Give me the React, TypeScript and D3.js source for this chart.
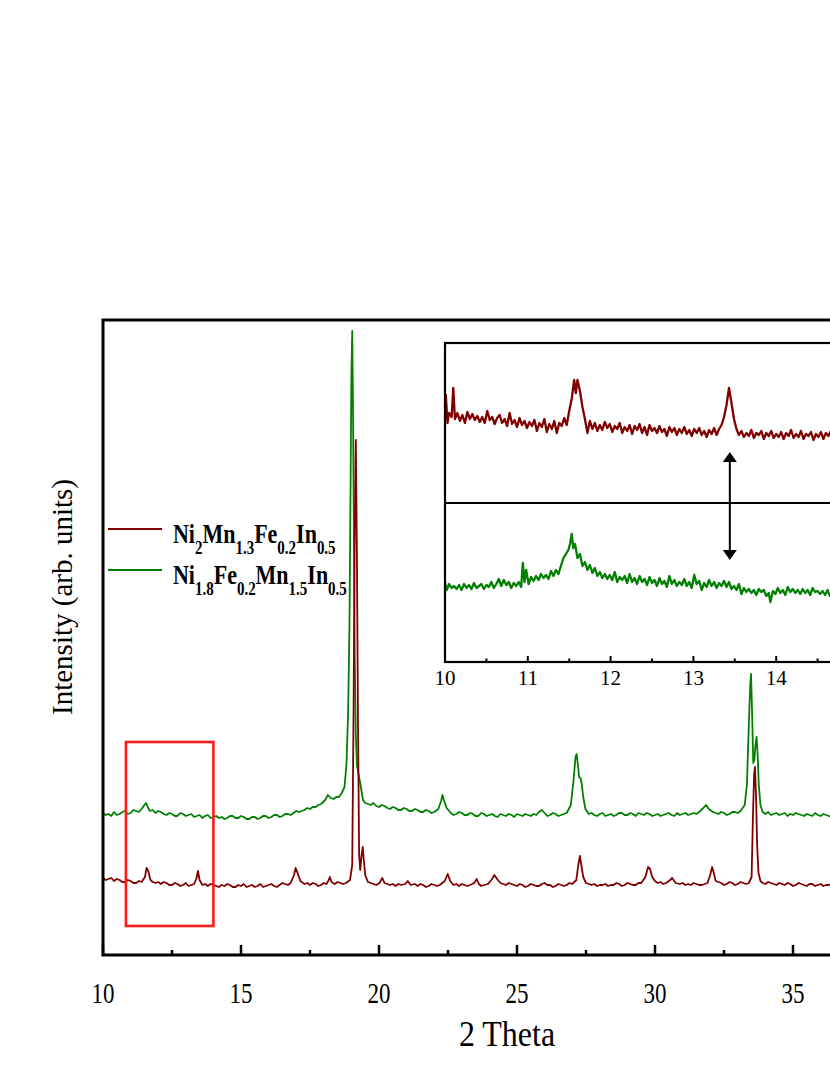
import React from "react";
import * as d3 from "d3";

// ---------- data ----------
const mainTicks = [10, 15, 20, 25, 30, 35];
const mainMinorTicks = [12.5, 17.5, 22.5, 27.5, 32.5, 37.5];
const insetTicks = [10, 11, 12, 13, 14];
const insetMinorTicks = [10.5, 11.5, 12.5, 13.5, 14.5];

const seriesNames = ["Ni2Mn1.3Fe0.2In0.5", "Ni1.8Fe0.2Mn1.5In0.5"];
const seriesColors = ["#800000", "#008000"];

// main plot: Ni1.8Fe0.2Mn1.5In0.5 (green, offset upward)
const greenMain: [number, number][] = [
  [10.0,142],[10.1,140],[10.2,141],[10.3,139],[10.4,143],[10.5,140],[10.6,141],[10.7,143],[10.8,144],[10.9,141],[11.0,142],[11.1,145],[11.2,144],[11.3,143],[11.4,146],[11.5,150],[11.56,152],[11.62,148],[11.7,144],[11.8,145],[11.9,142],[12.0,144],[12.1,143],[12.2,141],[12.3,140],[12.4,142],[12.5,141],[12.6,139],[12.7,139],[12.8,142],[12.9,141],[13.0,139],[13.1,140],[13.2,141],[13.3,138],[13.4,139],[13.5,140],[13.6,137],[13.7,139],[13.8,140],[13.9,137],[14.0,138],[14.1,139],[14.2,137],[14.3,138],[14.4,136],[14.5,137],[14.6,139],[14.7,139],[14.8,137],[14.9,137],[15.0,139],[15.1,138],[15.2,136],[15.3,136],[15.4,138],[15.5,138],[15.6,136],[15.7,137],[15.8,139],[15.9,139],[16.0,137],[16.1,138],[16.2,140],[16.3,140],[16.4,138],[16.5,139],[16.6,141],[16.7,141],[16.8,140],[16.9,142],[17.0,144],[17.1,143],[17.2,144],[17.3,145],[17.4,147],[17.5,146],[17.6,148],[17.7,148],[17.8,150],[17.9,151],[18.05,155],[18.15,160],[18.25,157],[18.35,156],[18.45,158],[18.55,158],[18.65,162],[18.75,168],[18.82,190],[18.88,240],[18.93,330],[18.97,470],[19.0,580],[19.03,624],[19.06,540],[19.09,420],[19.12,300],[19.16,220],[19.2,190],[19.25,182],[19.3,175],[19.36,165],[19.42,155],[19.5,152],[19.6,151],[19.7,150],[19.8,152],[19.9,149],[20.0,148],[20.1,150],[20.2,149],[20.3,147],[20.4,146],[20.5,148],[20.6,147],[20.7,145],[20.8,145],[20.9,147],[21.0,146],[21.1,144],[21.2,144],[21.3,146],[21.4,145],[21.5,143],[21.6,143],[21.7,145],[21.8,144],[21.9,142],[22.0,143],[22.15,146],[22.25,154],[22.3,160],[22.35,155],[22.45,147],[22.6,142],[22.7,140],[22.8,141],[22.9,143],[23.0,142],[23.1,140],[23.2,140],[23.3,142],[23.4,141],[23.5,139],[23.6,139],[23.7,142],[23.8,141],[23.9,139],[24.0,140],[24.1,141],[24.2,139],[24.3,138],[24.4,141],[24.5,140],[24.6,139],[24.7,141],[24.8,140],[24.9,138],[25.0,141],[25.1,140],[25.2,139],[25.3,141],[25.4,140],[25.5,139],[25.6,141],[25.7,140],[25.8,143],[25.9,145],[26.0,142],[26.1,139],[26.2,140],[26.3,142],[26.4,141],[26.5,139],[26.6,140],[26.7,141],[26.8,142],[26.95,150],[27.05,175],[27.12,198],[27.16,201],[27.2,192],[27.25,178],[27.3,177],[27.34,172],[27.4,158],[27.48,146],[27.6,141],[27.7,142],[27.8,140],[27.9,139],[28.0,141],[28.1,142],[28.2,139],[28.3,140],[28.4,141],[28.5,139],[28.6,140],[28.7,142],[28.8,142],[28.9,140],[29.0,140],[29.1,142],[29.2,141],[29.3,139],[29.4,142],[29.5,141],[29.6,140],[29.7,142],[29.8,141],[29.9,139],[30.0,140],[30.1,141],[30.2,139],[30.3,140],[30.4,141],[30.5,142],[30.6,140],[30.7,139],[30.8,142],[30.9,140],[31.0,141],[31.1,142],[31.2,140],[31.3,141],[31.4,142],[31.5,141],[31.6,143],[31.75,147],[31.85,150],[31.95,146],[32.1,143],[32.2,142],[32.3,141],[32.4,143],[32.5,142],[32.6,140],[32.7,141],[32.8,143],[32.9,143],[33.0,142],[33.1,144],[33.25,150],[33.33,170],[33.4,230],[33.45,270],[33.48,281],[33.52,240],[33.56,192],[33.6,195],[33.64,210],[33.68,218],[33.72,200],[33.76,170],[33.82,150],[33.9,143],[34.0,141],[34.1,143],[34.2,140],[34.3,141],[34.4,142],[34.5,140],[34.6,141],[34.7,142],[34.8,139],[34.9,141],[35.0,140],[35.1,142],[35.2,141],[35.3,140],[35.4,139],[35.5,141],[35.6,140],[35.7,139],[35.8,142],[35.9,140],[36.0,139],[36.1,141],[36.2,140],[36.3,139],[36.4,138],[36.5,140],[36.6,139]
];

// main plot: Ni2Mn1.3Fe0.2In0.5 (dark red)
const redMain: [number, number][] = [
  [10.0,77],[10.1,75],[10.2,76],[10.3,77],[10.4,74],[10.5,76],[10.6,75],[10.7,73],[10.8,73],[10.9,75],[11.0,74],[11.1,72],[11.2,72],[11.3,74],[11.4,73],[11.52,78],[11.58,87],[11.64,84],[11.72,75],[11.8,73],[11.9,72],[12.0,73],[12.1,71],[12.2,73],[12.3,72],[12.4,70],[12.5,70],[12.6,72],[12.7,71],[12.8,69],[12.9,70],[13.0,72],[13.1,69],[13.2,70],[13.3,71],[13.38,76],[13.44,84],[13.5,75],[13.6,70],[13.7,71],[13.8,69],[13.9,71],[14.0,70],[14.1,69],[14.2,68],[14.3,70],[14.4,69],[14.5,71],[14.6,70],[14.7,68],[14.8,68],[14.9,70],[15.0,69],[15.1,71],[15.2,68],[15.3,69],[15.4,70],[15.5,68],[15.6,69],[15.7,71],[15.8,68],[15.9,69],[16.0,70],[16.1,71],[16.2,69],[16.3,68],[16.4,70],[16.5,72],[16.6,71],[16.7,70],[16.8,72],[16.92,80],[16.98,87],[17.05,82],[17.15,74],[17.3,71],[17.4,72],[17.5,70],[17.6,72],[17.7,71],[17.8,69],[17.9,70],[18.0,72],[18.1,71],[18.18,75],[18.22,78],[18.28,73],[18.4,71],[18.5,73],[18.6,72],[18.7,71],[18.8,72],[18.95,75],[19.03,90],[19.08,250],[19.12,420],[19.16,515],[19.2,400],[19.24,230],[19.28,100],[19.32,85],[19.37,100],[19.41,108],[19.45,95],[19.5,80],[19.6,73],[19.7,72],[19.8,71],[19.9,70],[20.02,72],[20.12,77],[20.2,72],[20.3,71],[20.4,70],[20.5,71],[20.6,69],[20.7,71],[20.8,70],[20.95,71],[21.04,74],[21.15,70],[21.3,71],[21.4,69],[21.5,71],[21.6,70],[21.7,68],[21.8,69],[21.9,71],[22.0,70],[22.1,69],[22.2,70],[22.38,74],[22.49,81],[22.58,74],[22.7,70],[22.8,71],[22.9,69],[23.0,71],[23.1,70],[23.2,69],[23.3,70],[23.45,72],[23.54,76],[23.62,71],[23.7,69],[23.8,70],[23.95,71],[24.1,76],[24.18,80],[24.28,76],[24.4,72],[24.5,71],[24.6,70],[24.7,72],[24.8,71],[24.9,70],[25.0,69],[25.1,71],[25.2,70],[25.3,68],[25.4,69],[25.5,71],[25.6,70],[25.7,69],[25.8,69],[25.9,71],[26.0,72],[26.1,70],[26.2,70],[26.3,68],[26.4,69],[26.5,71],[26.6,70],[26.7,69],[26.8,70],[26.9,72],[27.0,71],[27.15,75],[27.22,90],[27.28,99],[27.34,88],[27.4,78],[27.5,72],[27.6,71],[27.7,70],[27.8,71],[27.9,69],[28.0,70],[28.1,70],[28.2,71],[28.3,69],[28.4,70],[28.5,70],[28.6,72],[28.7,71],[28.8,69],[28.9,70],[29.0,72],[29.1,71],[29.2,70],[29.3,70],[29.4,72],[29.5,72],[29.65,78],[29.75,88],[29.82,86],[29.9,78],[30.0,74],[30.1,72],[30.2,73],[30.3,71],[30.4,72],[30.55,75],[30.62,77],[30.75,72],[30.9,71],[31.0,72],[31.1,70],[31.2,71],[31.3,70],[31.4,72],[31.5,71],[31.6,70],[31.7,70],[31.8,71],[31.9,72],[32.0,80],[32.07,88],[32.13,82],[32.2,74],[32.3,73],[32.4,72],[32.5,70],[32.6,71],[32.7,73],[32.8,72],[32.9,70],[33.0,71],[33.1,73],[33.2,72],[33.3,71],[33.4,72],[33.5,78],[33.55,140],[33.59,180],[33.62,188],[33.66,160],[33.7,110],[33.75,82],[33.82,74],[33.9,72],[34.0,71],[34.1,73],[34.2,72],[34.3,71],[34.4,70],[34.5,72],[34.6,71],[34.7,70],[34.8,72],[34.9,71],[35.0,69],[35.1,70],[35.2,72],[35.3,71],[35.4,70],[35.5,69],[35.6,71],[35.7,71],[35.8,69],[35.9,70],[36.0,71],[36.1,69],[36.2,70],[36.3,70],[36.4,71],[36.5,69]
];

// inset (10-15 deg), top panel: red sample
const redInset: [number, number][] = [
  [10.00,95],[10.01,108],[10.03,80],[10.05,90],[10.08,86],[10.10,115],[10.12,84],[10.15,90],[10.18,82],[10.21,88],[10.24,80],[10.27,91],[10.30,84],[10.33,89],[10.36,83],[10.39,87],[10.42,81],[10.45,86],[10.48,80],[10.51,92],[10.54,83],[10.57,86],[10.60,79],[10.63,85],[10.66,88],[10.69,80],[10.72,84],[10.75,77],[10.78,90],[10.81,79],[10.84,83],[10.87,76],[10.90,85],[10.93,78],[10.96,82],[10.99,75],[11.02,81],[11.05,77],[11.08,83],[11.11,72],[11.14,80],[11.17,76],[11.20,84],[11.23,71],[11.26,79],[11.29,74],[11.32,82],[11.35,70],[11.38,80],[11.41,77],[11.44,85],[11.47,78],[11.50,92],[11.53,104],[11.56,123],[11.58,110],[11.60,123],[11.63,112],[11.66,96],[11.69,84],[11.72,70],[11.75,82],[11.78,74],[11.81,80],[11.84,72],[11.87,78],[11.90,73],[11.93,81],[11.96,75],[11.99,79],[12.02,71],[12.05,77],[12.08,74],[12.11,80],[12.14,70],[12.17,76],[12.20,72],[12.23,78],[12.26,69],[12.29,77],[12.32,73],[12.35,79],[12.38,70],[12.41,76],[12.44,68],[12.47,78],[12.50,72],[12.53,75],[12.56,70],[12.59,77],[12.62,71],[12.65,74],[12.68,67],[12.71,76],[12.74,71],[12.77,75],[12.80,68],[12.83,74],[12.86,70],[12.89,76],[12.92,69],[12.95,73],[12.98,67],[13.01,74],[13.04,70],[13.07,75],[13.10,68],[13.13,72],[13.16,66],[13.19,73],[13.22,69],[13.25,75],[13.28,68],[13.31,74],[13.34,78],[13.37,86],[13.40,98],[13.43,115],[13.46,100],[13.49,84],[13.52,74],[13.55,68],[13.58,72],[13.61,66],[13.64,70],[13.67,67],[13.70,73],[13.73,65],[13.76,70],[13.79,68],[13.82,72],[13.85,64],[13.88,70],[13.91,67],[13.94,72],[13.97,65],[14.00,69],[14.03,66],[14.06,71],[14.09,64],[14.12,70],[14.15,67],[14.18,73],[14.21,65],[14.24,69],[14.27,66],[14.30,72],[14.33,64],[14.36,69],[14.39,67],[14.42,71],[14.45,63],[14.48,69],[14.51,66],[14.54,71],[14.57,64],[14.60,70],[14.63,67],[14.66,72],[14.69,65],[14.72,69],[14.75,66],[14.78,70],[14.81,65],[14.84,69]
];

// inset bottom panel: green sample
const greenInset: [number, number][] = [
  [10.00,80],[10.02,72],[10.05,78],[10.08,74],[10.11,76],[10.14,73],[10.17,77],[10.20,72],[10.23,78],[10.26,74],[10.29,77],[10.32,73],[10.35,79],[10.38,74],[10.41,76],[10.44,78],[10.47,73],[10.50,77],[10.53,75],[10.56,80],[10.59,74],[10.62,78],[10.65,83],[10.68,76],[10.71,82],[10.74,77],[10.77,80],[10.80,74],[10.83,79],[10.86,76],[10.89,80],[10.92,75],[10.94,99],[10.96,80],[10.98,92],[11.01,78],[11.04,85],[11.07,81],[11.10,86],[11.13,82],[11.16,88],[11.19,84],[11.22,87],[11.25,83],[11.28,91],[11.31,86],[11.34,92],[11.37,88],[11.40,96],[11.43,104],[11.46,108],[11.49,112],[11.51,118],[11.53,128],[11.55,114],[11.57,118],[11.60,104],[11.63,108],[11.66,96],[11.69,100],[11.72,92],[11.75,97],[11.78,89],[11.81,94],[11.84,86],[11.87,90],[11.90,84],[11.93,88],[11.96,83],[11.99,87],[12.02,82],[12.05,90],[12.08,80],[12.11,85],[12.14,82],[12.17,86],[12.20,79],[12.23,88],[12.26,80],[12.29,84],[12.32,78],[12.35,86],[12.38,80],[12.41,83],[12.44,77],[12.47,85],[12.50,79],[12.53,82],[12.56,76],[12.59,84],[12.62,78],[12.65,81],[12.68,75],[12.71,86],[12.74,78],[12.77,82],[12.80,76],[12.83,80],[12.86,77],[12.89,83],[12.92,76],[12.95,80],[12.98,74],[13.01,87],[13.04,78],[13.07,81],[13.10,72],[13.13,79],[13.16,75],[13.19,82],[13.22,76],[13.25,80],[13.28,74],[13.31,79],[13.34,76],[13.37,81],[13.40,75],[13.43,80],[13.46,73],[13.49,76],[13.52,72],[13.55,78],[13.58,68],[13.61,74],[13.64,70],[13.67,73],[13.70,69],[13.73,72],[13.76,67],[13.79,73],[13.82,70],[13.85,72],[13.88,66],[13.91,69],[13.93,60],[13.96,71],[13.99,68],[14.02,74],[14.05,69],[14.08,72],[14.11,67],[14.14,75],[14.17,70],[14.20,73],[14.23,69],[14.26,72],[14.29,68],[14.32,73],[14.35,69],[14.38,72],[14.41,67],[14.44,74],[14.47,70],[14.50,71],[14.53,68],[14.56,71],[14.59,67],[14.62,72],[14.65,66],[14.68,69],[14.71,65],[14.74,68],[14.77,66],[14.80,69],[14.84,67]
];

// zoomed region marker in main plot (2theta range, intensity range)
const zoomBoxTheta = [10.83, 14.0];
const zoomBoxIntensity = [29, 213];
// arrow between inset panels (2theta)
const arrowTheta = 13.44;

// ---------- layout ----------
const W = 830;
const H = 1075;
const FONT = "'Liberation Serif', 'Times New Roman', Times, serif";

export default function App() {
  const x = d3.scaleLinear().domain([10, 40]).range([103, 931]);
  const y = d3.scaleLinear().domain([0, 635]).range([955, 320]);

  const ix = d3.scaleLinear().domain([10, 15]).range([445, 859]);
  const iyTop = d3.scaleLinear().domain([0, 160]).range([503, 343]);
  const iyBot = d3.scaleLinear().domain([0, 159]).range([662, 503]);

  const lineMain = d3.line<[number, number]>().x(d => x(d[0])).y(d => y(d[1]));
  const lineTop = d3.line<[number, number]>().x(d => ix(d[0])).y(d => iyTop(d[1]));
  const lineBot = d3.line<[number, number]>().x(d => ix(d[0])).y(d => iyBot(d[1]));

  const [x0, x1] = x.range();
  const [yb, yt] = y.range();
  const [ix0, ix1] = ix.range();
  const iTop = iyTop.range()[1];
  const iMid = iyTop.range()[0];
  const iBot = iyBot.range()[0];

  const ax = ix(arrowTheta);
  const arrTop = 452;
  const arrBot = 560;

  const legendY = [529, 570];

  return (
    <svg width={W} height={H} style={{ position: "absolute", left: 0, top: 0, background: "#fff" }}>
      <rect x={0} y={0} width={W} height={H} fill="#fff" />
      {/* data main */}
      <path d={lineMain(greenMain) || ""} fill="none" stroke={seriesColors[1]} strokeWidth={1.8} strokeLinejoin="round" />
      <path d={lineMain(redMain) || ""} fill="none" stroke={seriesColors[0]} strokeWidth={1.8} strokeLinejoin="round" />

      {/* frame */}
      <rect x={x0} y={yt} width={x1 - x0} height={yb - yt} fill="none" stroke="#000" strokeWidth={3} />
      {mainTicks.map(t => (
        <line key={"mt" + t} x1={x(t)} x2={x(t)} y1={yb} y2={yb - 10} stroke="#000" strokeWidth={2.5} />
      ))}
      {mainMinorTicks.map(t => (
        <line key={"mm" + t} x1={x(t)} x2={x(t)} y1={yb} y2={yb - 5} stroke="#000" strokeWidth={2.5} />
      ))}
      {mainTicks.map(t => (
        <g key={"ml" + t} transform={`translate(${x(t)},1003) scale(1,1.3)`}>
          <text x={0} y={0} textAnchor="middle" fontFamily={FONT} fontSize={23} fill="#000">{t}</text>
        </g>
      ))}

      {/* zoom box */}
      <rect x={x(zoomBoxTheta[0])} y={y(zoomBoxIntensity[1])} width={x(zoomBoxTheta[1]) - x(zoomBoxTheta[0])}
        height={y(zoomBoxIntensity[0]) - y(zoomBoxIntensity[1])} fill="none" stroke="#ff1a1a" strokeWidth={2.6} />

      {/* axis labels */}
      <text x={0} y={0} transform="translate(72,597) rotate(-90)" textAnchor="middle" fontFamily={FONT} fontSize={29} fill="#000">Intensity (arb. units)</text>
      <g transform="translate(507,1046) scale(1,1.15)">
        <text x={0} y={0} textAnchor="middle" fontFamily={FONT} fontSize={32} fill="#000">2 Theta</text>
      </g>

      {/* legend */}
      {legendY.map((ly, i) => (
        <line key={"lg" + i} x1={108} x2={162} y1={ly} y2={ly} stroke={seriesColors[i]} strokeWidth={1.8} />
      ))}
      <g transform={`translate(173,${legendY[0] + 14}) scale(1,1.27)`}>
        <text x={0} y={0} fontFamily={FONT} fontWeight="bold" fontSize={22} fill="#000">
          Ni<tspan fontSize={15} dy={9}>2</tspan><tspan dy={-9}>Mn</tspan><tspan fontSize={15} dy={9}>1.3</tspan><tspan dy={-9}>Fe</tspan><tspan fontSize={15} dy={9}>0.2</tspan><tspan dy={-9}>In</tspan><tspan fontSize={15} dy={9}>0.5</tspan>
        </text>
      </g>
      <g transform={`translate(173,${legendY[1] + 14}) scale(1,1.27)`}>
        <text x={0} y={0} fontFamily={FONT} fontWeight="bold" fontSize={22} fill="#000">
          Ni<tspan fontSize={15} dy={9}>1.8</tspan><tspan dy={-9}>Fe</tspan><tspan fontSize={15} dy={9}>0.2</tspan><tspan dy={-9}>Mn</tspan><tspan fontSize={15} dy={9}>1.5</tspan><tspan dy={-9}>In</tspan><tspan fontSize={15} dy={9}>0.5</tspan>
        </text>
      </g>

      {/* inset */}
      <rect x={ix0} y={iTop} width={ix1 - ix0 + 100} height={iBot - iTop} fill="#fff" stroke="none" />
      <path d={lineTop(redInset) || ""} fill="none" stroke={seriesColors[0]} strokeWidth={2.3} strokeLinejoin="round" />
      <path d={lineBot(greenInset) || ""} fill="none" stroke={seriesColors[1]} strokeWidth={2.3} strokeLinejoin="round" />
      <rect x={ix0} y={iTop} width={ix1 - ix0 + 100} height={iBot - iTop} fill="none" stroke="#000" strokeWidth={2.2} />
      <line x1={ix0} x2={ix1 + 100} y1={iMid} y2={iMid} stroke="#000" strokeWidth={2.2} />
      {insetTicks.map(t => (
        <line key={"it" + t} x1={ix(t)} x2={ix(t)} y1={iBot} y2={iBot - 6} stroke="#000" strokeWidth={2} />
      ))}
      {insetMinorTicks.map(t => (
        <line key={"im" + t} x1={ix(t)} x2={ix(t)} y1={iBot} y2={iBot - 3.5} stroke="#000" strokeWidth={2} />
      ))}
      {insetTicks.map(t => (
        <text key={"il" + t} x={ix(t)} y={685} textAnchor="middle" fontFamily={FONT} fontSize={21} fill="#000">{t}</text>
      ))}

      {/* double arrow */}
      <line x1={ax} x2={ax} y1={arrTop + 8} y2={arrBot - 8} stroke="#000" strokeWidth={2} />
      <path d={`M${ax},${arrTop} L${ax - 7},${arrTop + 10} L${ax + 7},${arrTop + 10} Z`} fill="#000" />
      <path d={`M${ax},${arrBot} L${ax - 7},${arrBot - 10} L${ax + 7},${arrBot - 10} Z`} fill="#000" />
    </svg>
  );
}
